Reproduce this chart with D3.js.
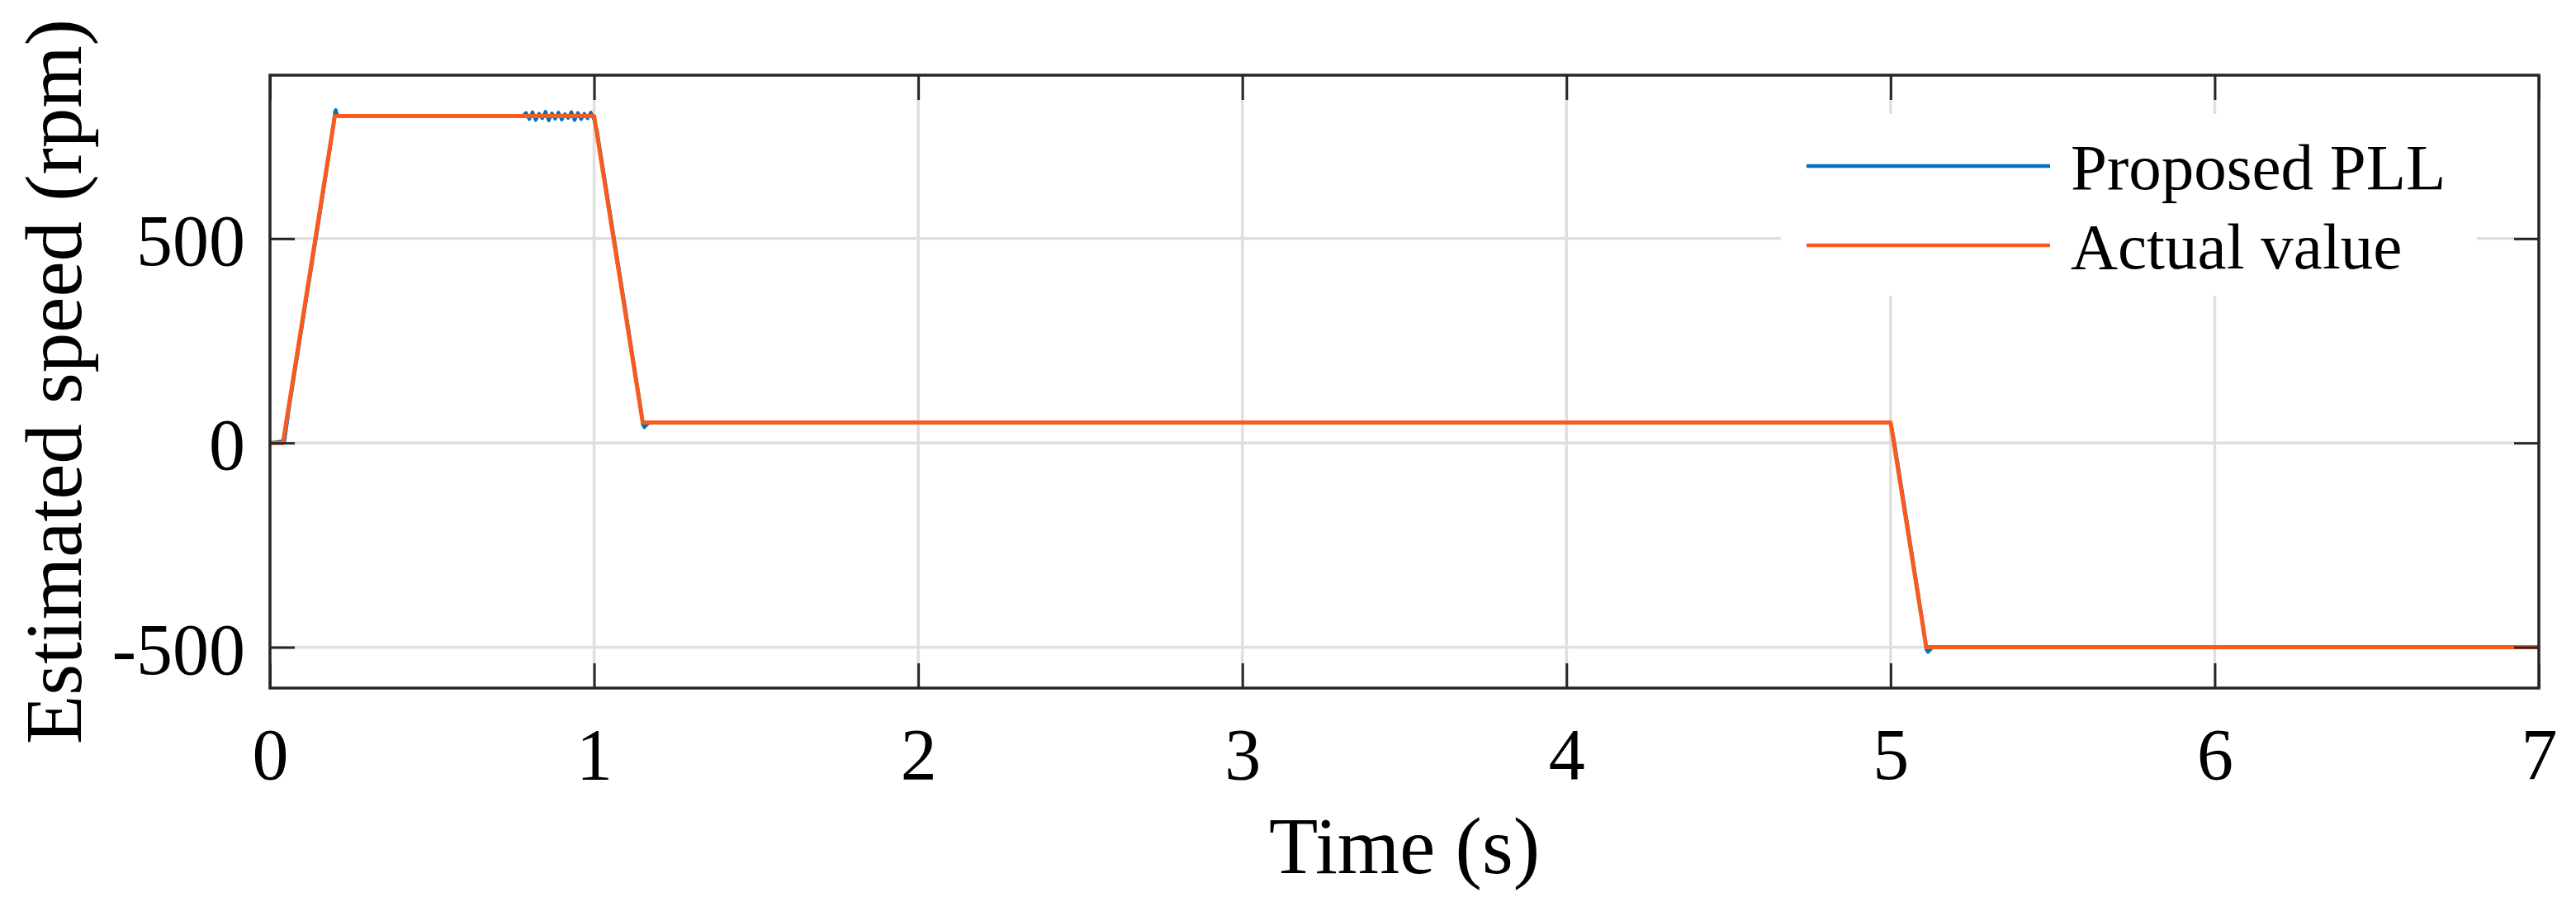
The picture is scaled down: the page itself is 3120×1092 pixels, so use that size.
<!DOCTYPE html>
<html lang="en">
<head>
    <meta charset="UTF-8">
    <title>Estimated speed</title>
    <script src="https://d3js.org/d3.v7.min.js"></script>
    <style>
        body { margin: 0; background: #fff; }
        svg text { font-family: "Liberation Serif", "Times New Roman", serif; fill: #000; }
        .axis path { display: none; }
        .axis line { stroke: #262626; stroke-width: 3; }
        .grid line { stroke: #dfdfdf; stroke-width: 3.5; }
    </style>
</head>
<body>
    <svg width="3120" height="1092"></svg>
    <script>
        // actual speed reference (rpm)
        var actualTime  = [0, 0.04, 0.2, 1.0, 1.15, 5.0, 5.11, 7.0];
        var actualSpeed = [0, 0, 800, 800, 50, 50, -500, -500];

        // speed estimated by the proposed PLL (rpm)
        var estTime = [0, 0.045, 0.06, 0.1, 0.15, 0.195, 0.2, 0.203, 0.207, 0.21, 0.4, 0.6, 0.78,
            0.79, 0.80, 0.81, 0.82, 0.83, 0.84, 0.85, 0.86, 0.87, 0.88, 0.89,
            0.90, 0.91, 0.92, 0.93, 0.94, 0.95, 0.96, 0.97, 0.98, 0.99, 1.0,
            1.01, 1.05, 1.1, 1.145, 1.15, 1.155, 1.16, 1.17, 1.2, 2.0, 3.0, 4.0, 4.9,
            5.0, 5.01, 5.05, 5.1, 5.11, 5.115, 5.12, 5.13, 5.2, 6.0, 7.0];
        var estSpeed = [0, 5, 90, 290, 540, 770, 810, 815, 805, 800, 800, 800, 800,
            808, 792, 810, 790, 806, 794, 811, 789, 807, 793, 809,
            791, 805, 795, 810, 790, 808, 792, 806, 794, 809, 791,
            760, 560, 310, 80, 45, 38, 42, 50, 50, 50, 50, 50, 50,
            50, 10, -190, -445, -505, -512, -508, -500, -500, -500, -500];

        var xTicks = [0, 1, 2, 3, 4, 5, 6, 7];
        var yTicks = [-500, 0, 500];
        var seriesNames = ["Proposed PLL", "Actual value"];
        var seriesColors = ["#0072BD", "#F95A1E"];

        var svg = d3.select("svg");
        var plotL = 327, plotR = 3075, plotT = 91, plotB = 833;

        var x = d3.scaleLinear().domain([0, 7]).range([plotL, plotR]);
        var y = d3.scaleLinear().domain([-600, 900]).range([plotB, plotT]);

        // grid
        var grid = svg.append("g").attr("class", "grid");
        grid.selectAll(".gx").data(xTicks).enter().append("line")
            .attr("x1", function(d) { return x(d); }).attr("x2", function(d) { return x(d); })
            .attr("y1", plotT).attr("y2", plotB);
        grid.selectAll(".gy").data(yTicks).enter().append("line")
            .attr("y1", function(d) { return y(d); }).attr("y2", function(d) { return y(d); })
            .attr("x1", plotL).attr("x2", plotR);

        svg.append("clipPath").attr("id", "clip")
            .append("rect").attr("x", plotL).attr("y", plotT)
            .attr("width", plotR - plotL).attr("height", plotB - plotT);

        var line = d3.line()
            .x(function(d) { return x(d[0]); })
            .y(function(d) { return y(d[1]); });

        var estData = d3.zip(estTime, estSpeed);
        var actualData = d3.zip(actualTime, actualSpeed);

        var plot = svg.append("g").attr("clip-path", "url(#clip)");
        plot.append("path").datum(estData)
            .attr("d", line).attr("fill", "none")
            .attr("stroke", seriesColors[0]).attr("stroke-width", 4)
            .attr("stroke-linejoin", "round");
        plot.append("path").datum(actualData)
            .attr("d", line).attr("fill", "none")
            .attr("stroke", seriesColors[1]).attr("stroke-width", 5)
            .attr("stroke-linejoin", "round");

        var fmt = function(d) { return d3.format("d")(d).replace("\u2212", "-"); };

        // axes with inward ticks
        svg.append("g").attr("class", "axis")
            .attr("transform", "translate(0," + plotB + ")")
            .call(d3.axisBottom(x).tickValues(xTicks).tickSizeInner(-30).tickSizeOuter(0)
                .tickPadding(48).tickFormat(fmt))
            .selectAll("text").style("font-size", "88px").attr("dy", "0.71em");
        svg.append("g").attr("class", "axis")
            .attr("transform", "translate(0," + plotT + ")")
            .call(d3.axisTop(x).tickValues(xTicks).tickSizeInner(-30).tickSizeOuter(0).tickFormat(""));
        svg.append("g").attr("class", "axis")
            .attr("transform", "translate(" + plotL + ",0)")
            .call(d3.axisLeft(y).tickValues(yTicks).tickSizeInner(-30).tickSizeOuter(0)
                .tickPadding(30).tickFormat(fmt))
            .selectAll("text").style("font-size", "88px").attr("dy", "0.36em");
        svg.append("g").attr("class", "axis")
            .attr("transform", "translate(" + plotR + ",0)")
            .call(d3.axisRight(y).tickValues(yTicks).tickSizeInner(-30).tickSizeOuter(0).tickFormat(""));

        svg.append("rect")
            .attr("x", plotL).attr("y", plotT)
            .attr("width", plotR - plotL).attr("height", plotB - plotT)
            .attr("fill", "none").attr("stroke", "#262626").attr("stroke-width", 3.5);

        // axis labels
        svg.append("text")
            .attr("x", (plotL + plotR) / 2).attr("y", 1057)
            .attr("text-anchor", "middle").style("font-size", "97px")
            .text("Time (s)");
        svg.append("text")
            .attr("transform", "translate(98," + ((plotT + plotB) / 2) + ") rotate(-90)")
            .attr("text-anchor", "middle").style("font-size", "97px")
            .text("Estimated speed (rpm)");

        // legend
        var legend = svg.append("g");
        legend.append("rect")
            .attr("x", 2157).attr("y", 138).attr("width", 843).attr("height", 220)
            .attr("fill", "#fff");
        var rows = legend.selectAll(".row").data(seriesNames).enter().append("g")
            .attr("transform", function(d, i) { return "translate(0," + (201 + i * 96) + ")"; });
        rows.append("line")
            .attr("x1", 2188).attr("x2", 2483)
            .attr("stroke", function(d, i) { return seriesColors[i]; })
            .attr("stroke-width", 4.5);
        rows.append("text")
            .attr("x", 2508).attr("dy", "0.35em")
            .style("font-size", "79px")
            .text(function(d) { return d; });
    </script>
</body>
</html>
